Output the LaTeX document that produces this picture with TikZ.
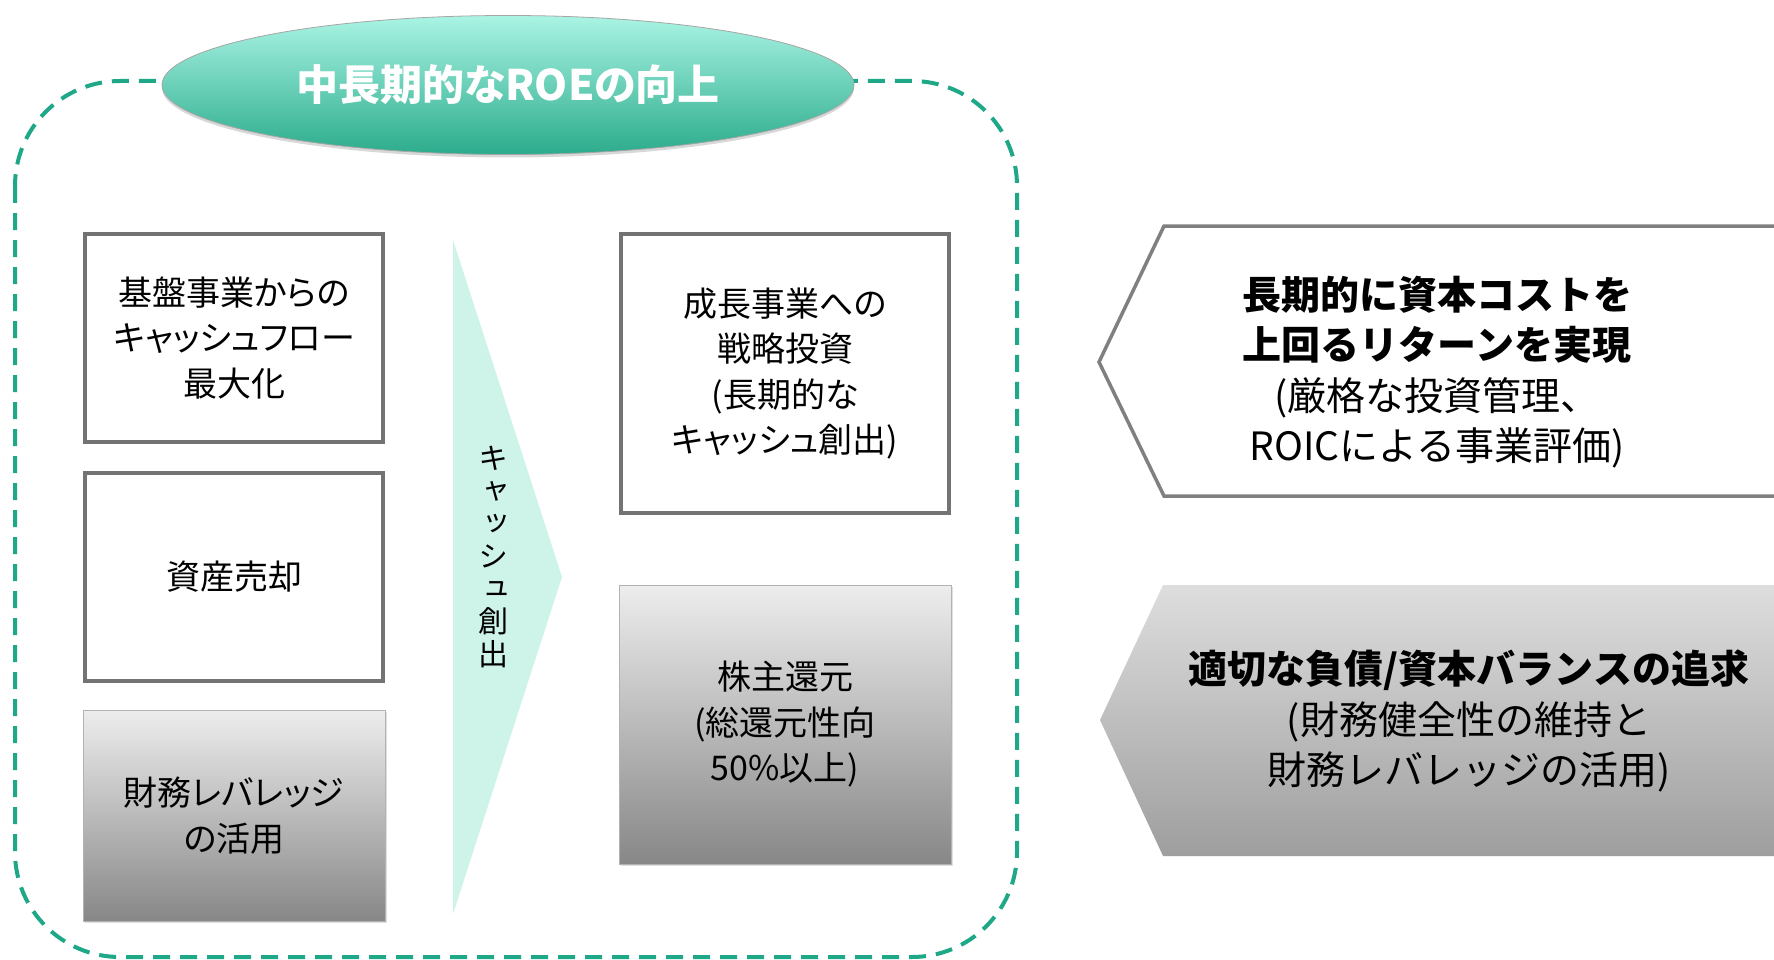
\documentclass[tikz,border=0pt]{standalone}
\usepackage{fontspec}
\setmainfont{Noto Sans CJK JP}[RawFeature=+palt]
\newfontfamily\vtfont{Noto Sans CJK JP}[RawFeature=+vert]
\newfontfamily\rfont{Noto Sans CJK JP}
\usetikzlibrary{shapes.geometric,shadows}
\definecolor{dashteal}{RGB}{30,168,135}
\definecolor{mint}{RGB}{206,244,234}
\definecolor{elltop}{RGB}{170,244,228}
\definecolor{ellbot}{RGB}{44,172,140}
\begin{document}
\begin{tikzpicture}[x=1pt,y=-1pt,
  dashframe/.style={draw=dashteal,line width=4pt,dash pattern=on 17pt off 10pt,rounded corners=105pt},
  wbox/.style={draw=black!55,line width=3.5pt,fill=white,align=center,inner sep=0pt,
    font=\fontsize{34}{45.5}\selectfont,
    drop shadow={shadow xshift=1.5pt,shadow yshift=-1.5pt,opacity=0.25}},
  gbox/.style={top color=black!7,bottom color=black!47,draw=black!30,line width=1pt,align=center,inner sep=0pt,
    font=\fontsize{34}{45.5}\selectfont,
    drop shadow={shadow xshift=1.5pt,shadow yshift=-1.5pt,opacity=0.25}},
  rtext/.style={align=center,inner sep=0pt,font=\rfont\fontsize{39}{50.5}\selectfont}
]
\clip (0,0) rectangle (1774,960);
\fill[white] (0,0) rectangle (1774,960);

% dashed frame
\draw[dashframe] (15,81) rectangle (1017,957);

% title ellipse
\node[ellipse,minimum width=692pt,minimum height=139pt,inner sep=0pt,
  top color=elltop,bottom color=ellbot,draw=black!35,line width=0.8pt,
  drop shadow={shadow xshift=0pt,shadow yshift=-3pt,opacity=0.3},
  text=white,font=\bfseries\fontsize{42}{46}\selectfont] (title) at (508,85) {中長期的なROEの向上};

% left column
\node[wbox,minimum width=298pt,minimum height=208pt] (b1) at (234,338)
  {基盤事業からの\\キャッシュフロー\\最大化};
\node[wbox,minimum width=298pt,minimum height=208pt] (b2) at (234,577)
  {資産売却};
\node[gbox,minimum width=302pt,minimum height=211pt] (b3) at (234,815.5)
  {財務レバレッジ\\の活用};

% cash creation chevron
\fill[mint] (453,240) -- (562,577) -- (453,914) -- cycle;
\node[align=center,inner sep=0pt,font=\vtfont\fontsize{30}{32.7}\selectfont] (cash) at (493,557)
  {キ\\ャ\\ッ\\シ\\ュ\\創\\出};

% right column
\node[wbox,minimum width=328pt,minimum height=279pt] (b4) at (785,373.5)
  {成長事業への\\戦略投資\\(長期的な\\キャッシュ創出)};
\node[gbox,minimum width=332pt,minimum height=279pt] (b5) at (785,724.5)
  {株主還元\\(総還元性向\\50\%以上)};

% right arrows
\draw[draw=black!50,line width=3.5pt,fill=white,line join=miter]
  (1800,226) -- (1164,226) -- (1099,362) -- (1164,496) -- (1800,496);
\node[rtext] (t1) at (1437,372)
  {\textbf{長期的に資本コストを}\\\textbf{上回るリターンを実現}\\(厳格な投資管理、\\ROICによる事業評価)};

\shade[top color=black!13,bottom color=black!38]
  (1800,585) -- (1163,585) -- (1100,720) -- (1163,856) -- (1800,856) -- cycle;
\node[rtext] (t2) at (1469,721)
  {\textbf{適切な負債/資本バランスの追求}\\(財務健全性の維持と\\財務レバレッジの活用)};
\end{tikzpicture}
\end{document}
